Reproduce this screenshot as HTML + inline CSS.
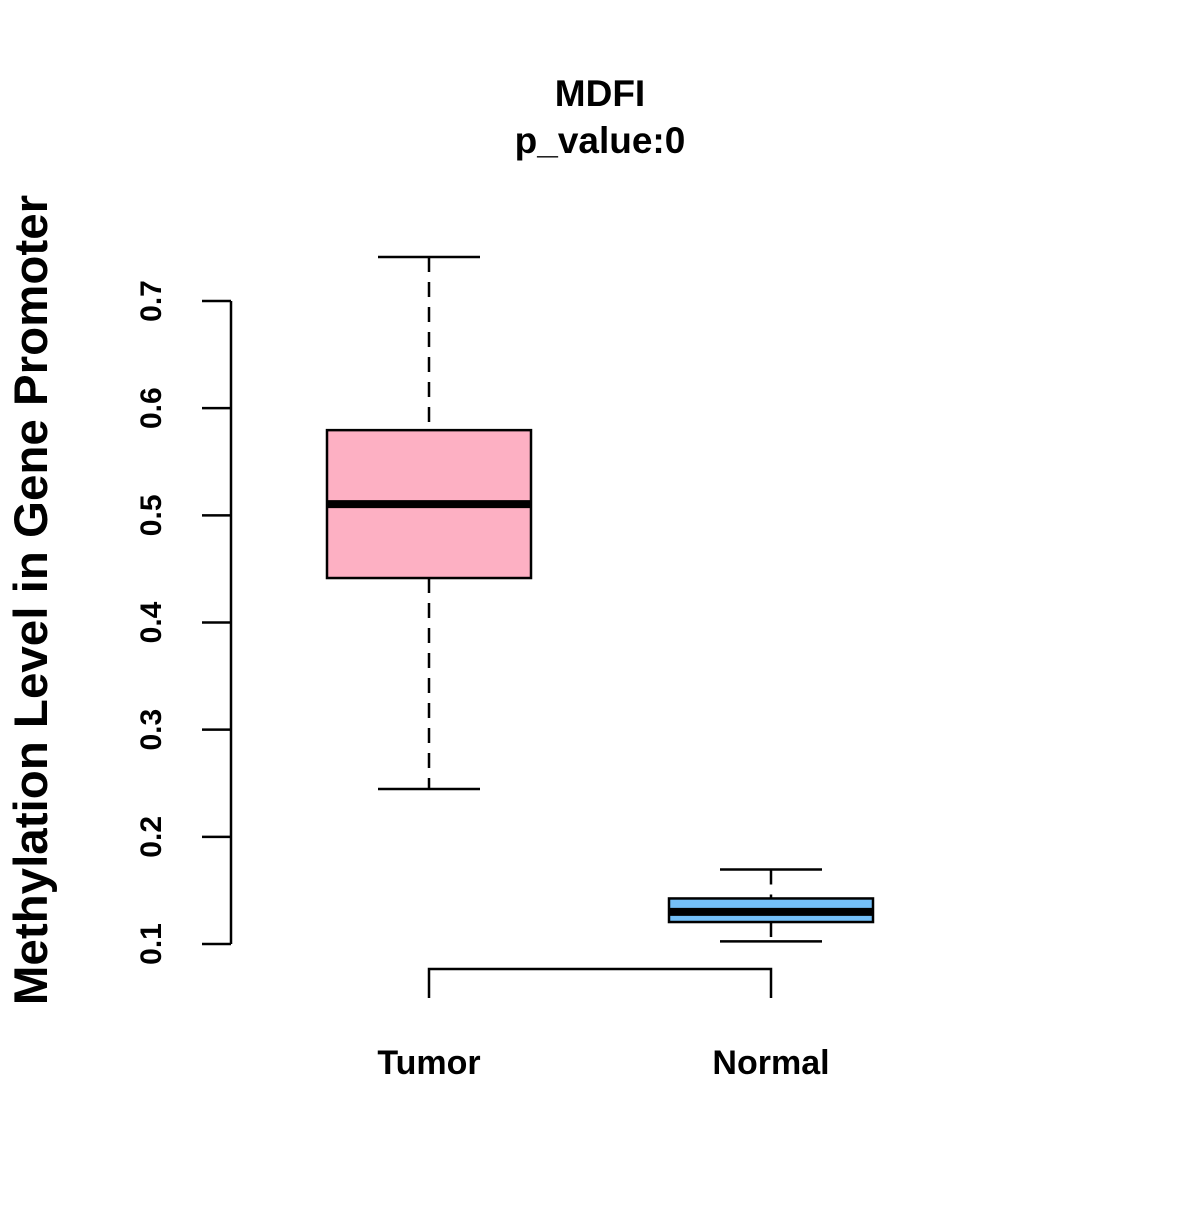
<!DOCTYPE html>
<html><head><meta charset="utf-8"><style>body{margin:0;background:#fff}svg text{font-family:"Liberation Sans",sans-serif;font-weight:bold;fill:#000}</style></head>
<body>
<svg id="chart" width="1200" height="1200" xmlns="http://www.w3.org/2000/svg">
<text x="600" y="106" text-anchor="middle" font-size="37">MDFI</text>
<text x="600" y="153" text-anchor="middle" font-size="37">p_value:0</text>
<text transform="translate(47,600) rotate(-90)" text-anchor="middle" font-size="47.5">Methylation Level in Gene Promoter</text>
<g id="yaxis"></g>
<g id="xaxis"></g>
<g id="boxes"></g>
</svg>
<script>
const categories = ["Tumor", "Normal"];
const whiskerLow = [0.2446, 0.1025];
const q1 = [0.4415, 0.1205];
const medians = [0.5105, 0.130];
const q3 = [0.5795, 0.1425];
const whiskerHigh = [0.741, 0.1695];
const colors = ["#FDB0C3", "#74BFF7"];
const yTicks = [0.1, 0.2, 0.3, 0.4, 0.5, 0.6, 0.7];
const yTickLabels = ["0.1", "0.2", "0.3", "0.4", "0.5", "0.6", "0.7"];

const NS = "http://www.w3.org/2000/svg";
function y(v){ return 944 - (v - 0.1) / 0.6 * 643; }
function x(i){ return 429 + i * 342; }
function mk(parent, tag, attrs){ const e = document.createElementNS(NS, tag); for (const k in attrs) e.setAttribute(k, attrs[k]); parent.appendChild(e); return e; }

const ya = document.getElementById("yaxis");
const axLine = mk(ya, "line", {x1:231, x2:231, y1:y(yTicks[0]), y2:y(yTicks[yTicks.length-1]), stroke:"#000", "stroke-width":2.5});


yTicks.forEach((t, i) => {
  const tk = mk(ya, "line", {x1:202, x2:231, y1:y(t), y2:y(t), stroke:"#000", "stroke-width":2.5});
  
  
  const lb = mk(ya, "text", {transform:`translate(161,${y(t)}) rotate(-90)`, "text-anchor":"middle", "font-size":30});
  lb.textContent = yTickLabels[i];
  
  
});

const xa = document.getElementById("xaxis");
const xl = mk(xa, "path", {d:`M${x(0)},998 V969 H${x(1)} V998`, fill:"none", stroke:"#000", "stroke-width":2.5});


categories.forEach((c, i) => {
  const lb = mk(xa, "text", {x:x(i), y:1074, "text-anchor":"middle", "font-size":34});
  lb.textContent = c;
  
  
});

const bx = document.getElementById("boxes");
categories.forEach((c, i) => {
  const cx = x(i);
  const g = mk(bx, "g", {});
  
  
  mk(g, "line", {x1:cx, x2:cx, y1:y(whiskerHigh[i]), y2:y(q3[i]), stroke:"#000", "stroke-width":2.5, "stroke-dasharray":"15,10"});
  mk(g, "line", {x1:cx, x2:cx, y1:y(q1[i]), y2:y(whiskerLow[i]), stroke:"#000", "stroke-width":2.5, "stroke-dasharray":"15,10"});
  mk(g, "line", {x1:cx-51, x2:cx+51, y1:y(whiskerHigh[i]), y2:y(whiskerHigh[i]), stroke:"#000", "stroke-width":2.5});
  mk(g, "line", {x1:cx-51, x2:cx+51, y1:y(whiskerLow[i]), y2:y(whiskerLow[i]), stroke:"#000", "stroke-width":2.5});
  mk(g, "rect", {x:cx-102, y:y(q3[i]), width:204, height:y(q1[i])-y(q3[i]), fill:colors[i], stroke:"#000", "stroke-width":2.5});
  mk(g, "line", {x1:cx-102, x2:cx+102, y1:y(medians[i]), y2:y(medians[i]), stroke:"#000", "stroke-width":8});
});
</script>
</body></html>
